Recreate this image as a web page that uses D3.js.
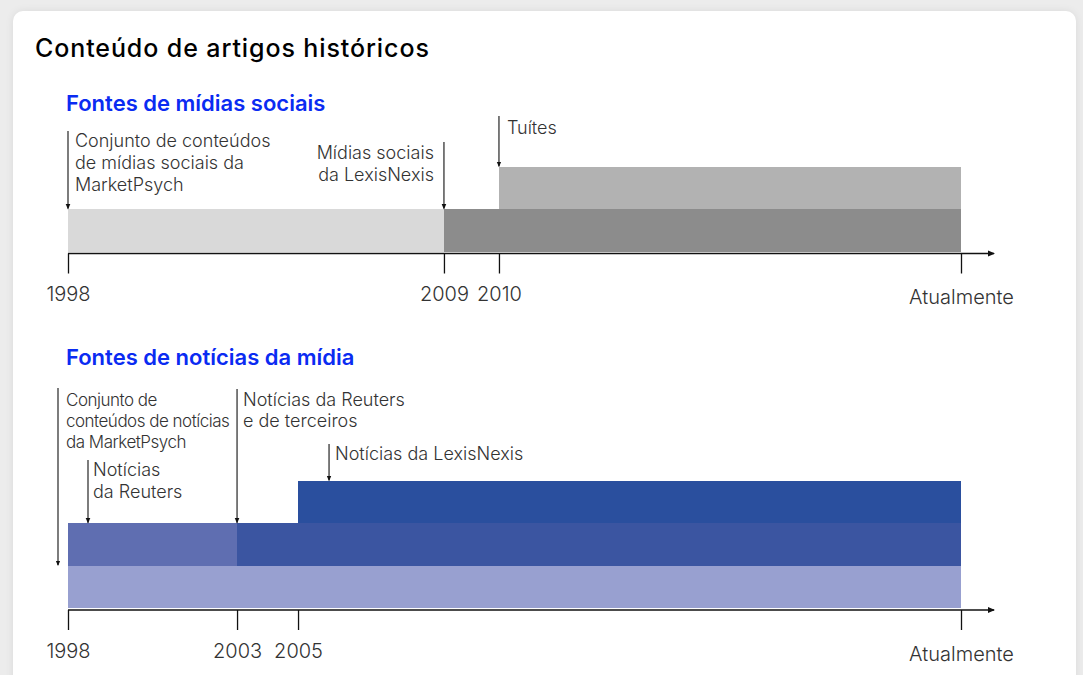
<!DOCTYPE html>
<html>
<head>
<meta charset="utf-8">
<script src="https://cdn.jsdelivr.net/npm/d3@7"></script>
<style>
  html, body { margin:0; padding:0; background:#ececec; }
  body { width:1083px; height:675px; overflow:hidden; position:relative; font-family: Inter, "Noto Sans", sans-serif; }
  #card { position:absolute; left:13px; top:11px; width:1063px; height:700px; background:#fff; border-radius:10px; box-shadow:0 0 8px rgba(0,0,0,0.08); }
  svg { position:absolute; left:0; top:0; }
</style>
</head>
<body>
<div id="card"></div>
<svg id="chart" width="1083" height="675"></svg>
<script>
// ---------- DATA ----------
const chartTitle = "Conteúdo de artigos históricos";

// Panel 1: social media sources
const socialTitle = "Fontes de mídias sociais";
const socialTicks = [1998, 2009, 2010, 2024];
const socialTickLabels = ["1998", "2009", "2010", "Atualmente"];
const socialBarStart = [1998, 2009, 2010];
const socialBarEnd = [2009, 2024, 2024];
const socialBarLevel = [0, 0, 1];
const socialBarNames = ["MarketPsych social", "LexisNexis social", "Tuítes"];
const socialNoteText = [
  ["Conjunto de conteúdos", "de mídias sociais da", "MarketPsych"],
  ["Mídias sociais", "da LexisNexis"],
  ["Tuítes"]
];
const socialNoteYear = [1998, 2009, 2010];
const socialNoteLevel = [1, 1, 2];

// Panel 2: news media sources
const newsTitle = "Fontes de notícias da mídia";
const newsTicks = [1998, 2003, 2005, 2024];
const newsTickLabels = ["1998", "2003", "2005", "Atualmente"];
const newsBarStart = [1998, 1998, 2003, 2005];
const newsBarEnd = [2024, 2003, 2024, 2024];
const newsBarLevel = [0, 1, 1, 2];
const newsBarNames = ["MarketPsych news", "Reuters", "Reuters + third party", "LexisNexis news"];
const newsNoteText = [
  ["Conjunto de", "conteúdos de notícias", "da MarketPsych"],
  ["Notícias", "da Reuters"],
  ["Notícias da Reuters", "e de terceiros"],
  ["Notícias da LexisNexis"]
];
const newsNoteYear = [1998, 1998, 2003, 2005];
const newsNoteLevel = [1, 2, 2, 3];

// ---------- STYLE / LAYOUT ----------
const socialColors = ["#d9d9d9", "#8c8c8c", "#b2b2b2"];
const newsColors = ["#98a0d0", "#5f6eb1", "#3b55a1", "#2a4f9e"];
const X0 = 68, X1 = 961, AXIS_END = 994, LEVEL_H = 42.4;

const svg = d3.select("#chart");
const defs = svg.append("defs");
defs.append("marker").attr("id", "ah").attr("viewBox", "0 0 6 6").attr("refX", 5).attr("refY", 3)
  .attr("markerWidth", 5).attr("markerHeight", 5).attr("orient", "auto")
  .append("path").attr("d", "M0,0.5 L6,3 L0,5.5 z").attr("fill", "#111");

svg.append("text").attr("x", 35).attr("y", 57).text(chartTitle)
  .attr("font-size", 25).attr("font-weight", 500).attr("letter-spacing", 0.9).attr("fill", "#000");

function panel(cfg) {
  const g = svg.append("g");
  // piecewise timeline scale (schematic spacing between milestones)
  const x = d3.scaleLinear().domain(cfg.ticks).range(cfg.tickFrac.map(f => X0 + f * (X1 - X0)));
  const y = d3.scaleLinear().domain([0, 1]).range([cfg.baseY, cfg.baseY - LEVEL_H]);

  g.append("text").attr("x", 66).attr("y", cfg.titleY).text(cfg.title)
    .attr("font-size", 22).attr("font-weight", 600).attr("fill", "#0a2bf2");

  // bars
  g.selectAll("rect.bar").data(cfg.start.map((s, i) => ({ s, e: cfg.end[i], l: cfg.level[i], c: cfg.colors[i] })))
    .join("rect").attr("class", "bar")
    .attr("x", d => x(d.s)).attr("width", d => x(d.e) - x(d.s))
    .attr("y", d => y(d.l + 1)).attr("height", d => y(d.l) - y(d.l + 1))
    .attr("fill", d => d.c).attr("shape-rendering", "crispEdges");

  // axis
  const axisY = cfg.baseY + 2;
  const axis = d3.axisBottom(x).tickValues(cfg.ticks)
    .tickFormat((d, i) => cfg.tickLabels[i]).tickSize(20).tickSizeOuter(0).tickPadding(cfg.tickPad);
  const ag = g.append("g").attr("transform", `translate(0,${axisY})`).call(axis);
  ag.select(".domain").remove();
  ag.selectAll(".tick line").attr("stroke", "#111").attr("stroke-width", 1.3);
  ag.selectAll(".tick text").attr("font-family", "Inter, sans-serif").attr("font-size", 20)
    .attr("font-weight", 300).attr("fill", "#333")
    .attr("dy", (d, i) => i === cfg.ticks.length - 1 ? "0.95em" : "0.8em");
  g.append("line").attr("x1", X0).attr("x2", AXIS_END).attr("y1", axisY).attr("y2", axisY)
    .attr("stroke", "#111").attr("stroke-width", 1.5).attr("marker-end", "url(#ah)");

  // annotations
  cfg.notes.forEach((lines, i) => {
    const n = cfg.noteLayout[i];
    const ax = x(cfg.noteYear[i]) + (n.dx || 0);
    const yEnd = n.yEnd !== undefined ? n.yEnd : y(cfg.noteLevel[i]);
    g.append("line").attr("x1", ax).attr("x2", ax).attr("y1", n.y0).attr("y2", yEnd - 0.5)
      .attr("stroke", "#111").attr("stroke-width", 1.1).attr("marker-end", "url(#ah)");
    const t = g.append("text").attr("font-size", n.fs || 18).attr("fill", "#333")
      .attr("font-weight", 300)
      .attr("text-anchor", n.anchor || "start");
    lines.forEach((ln, j) => {
      const ts = t.append("tspan").attr("x", ax + n.tx).attr("y", n.ty + j * (n.lh || 22)).text(ln);
      if (n.ls) ts.attr("letter-spacing", n.ls);
    });
  });
}

panel({
  title: socialTitle, titleY: 111, baseY: 251.5, tickPad: 11,
  ticks: socialTicks, tickLabels: socialTickLabels, tickFrac: [0, 0.421, 0.4826, 1],
  start: socialBarStart, end: socialBarEnd, level: socialBarLevel, colors: socialColors,
  notes: socialNoteText, noteYear: socialNoteYear, noteLevel: socialNoteLevel,
  noteLayout: [
    { y0: 131, tx: 7, ty: 147, lh: 22 },
    { y0: 142, tx: -10, ty: 159, lh: 22, anchor: "end" },
    { y0: 116, tx: 8, ty: 134 }
  ]
});

panel({
  title: newsTitle, titleY: 365, baseY: 608, tickPad: 12,
  ticks: newsTicks, tickLabels: newsTickLabels, tickFrac: [0, 0.1893, 0.2576, 1],
  start: newsBarStart, end: newsBarEnd, level: newsBarLevel, colors: newsColors,
  notes: newsNoteText, noteYear: newsNoteYear, noteLevel: newsNoteLevel,
  noteLayout: [
    { y0: 388, dx: -10, tx: 8, ty: 406, lh: 21, fs: 17, ls: -0.5 },
    { y0: 460, dx: 20, tx: 5, ty: 476, lh: 22 },
    { y0: 389, tx: 6, ty: 406, lh: 21 },
    { y0: 444, dx: 31, tx: 6, ty: 460 }
  ]
});
</script>
</body>
</html>
